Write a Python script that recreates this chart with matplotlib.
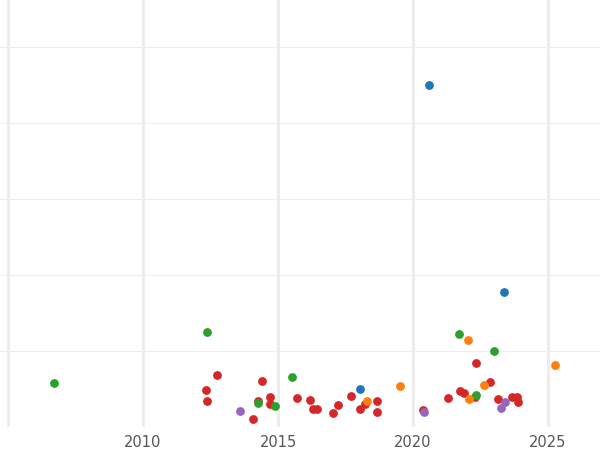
import matplotlib
matplotlib.use("Agg")
import matplotlib.pyplot as plt

blue_x = [2020.59, 2023.37, 2018.04]
blue_y = [4.50, 1.78, 0.50]
green_x = [2006.70, 2012.37, 2015.52, 2021.70, 2023.0, 2014.26, 2014.89, 2022.33]
green_y = [0.58, 1.25, 0.66, 1.22, 1.0, 0.32, 0.28, 0.42]
orange_x = [2022.04, 2025.26, 2019.52, 2018.30, 2022.07, 2022.63]
orange_y = [1.14, 0.82, 0.54, 0.34, 0.37, 0.55]
purple_x = [2013.59, 2020.41, 2023.26, 2023.41]
purple_y = [0.21, 0.20, 0.25, 0.33]
red_x = [2012.33, 2012.37, 2012.74, 2014.07, 2014.41, 2014.26, 2014.70, 2014.70, 2015.70,
         2016.19, 2016.30, 2016.44, 2017.04, 2017.22, 2017.70, 2018.04, 2018.22, 2018.67,
         2018.67, 2020.37, 2021.30, 2021.74, 2021.89, 2022.33, 2022.85, 2023.15, 2023.67,
         2023.85, 2023.89, 2022.30]
red_y = [0.49, 0.34, 0.68, 0.11, 0.61, 0.34, 0.39, 0.30, 0.38, 0.36, 0.24, 0.24, 0.18,
         0.29, 0.41, 0.24, 0.30, 0.34, 0.20, 0.22, 0.38, 0.47, 0.45, 0.84, 0.59, 0.37,
         0.39, 0.39, 0.33, 0.39]
xticks = [2005, 2010, 2015, 2020, 2025]

fig = plt.figure(figsize=(6, 4.5), dpi=100)
ax = fig.add_axes([0, 0.051, 1, 0.949])
ax.set_xlim(2004.70, 2026.93)
ax.set_ylim(0, 5.62)
ax.set_yticks([0, 1, 2, 3, 4, 5])
ax.set_xticks(xticks)
ax.set_xticklabels(["", "2010", "2015", "2020", "2025"])
ax.grid(True, axis="y", color="#ededed", lw=0.8)
ax.grid(True, axis="x", color="#ebebeb", lw=2)
ax.set_axisbelow(True)
for s in ax.spines.values():
    s.set_visible(False)
ax.tick_params(length=0, labelsize=10.5, colors="#555555", labelleft=False, pad=6)
for xs, ys, c in [(red_x, red_y, "#d62728"), (green_x, green_y, "#2ca02c"),
                  (orange_x, orange_y, "#ff7f0e"), (purple_x, purple_y, "#9467bd"),
                  (blue_x, blue_y, "#1f77b4")]:
    ax.scatter(xs, ys, s=40, color=c, zorder=3, linewidths=0)
fig.savefig("out.png")
